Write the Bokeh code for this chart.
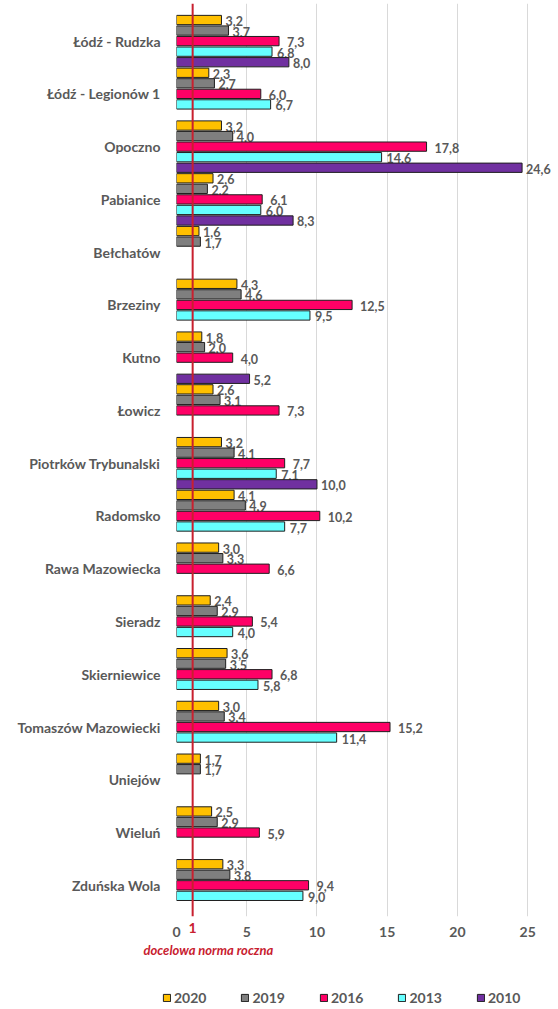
from bokeh.plotting import figure
from bokeh.layouts import column
from bokeh.models import (ColumnDataSource, Range1d, FixedTicker, Span, Title,
                          LinearAxis, Legend, LegendItem)
from bokeh.core.properties import value
from bokeh.embed import file_html
from bokeh.resources import INLINE

# ---------------- data ----------------
cities = ["Łódź - Rudzka", "Łódź - Legionów 1", "Opoczno", "Pabianice", "Bełchatów",
          "Brzeziny", "Kutno", "Łowicz", "Piotrków Trybunalski", "Radomsko",
          "Rawa Mazowiecka", "Sieradz", "Skierniewice", "Tomaszów Mazowiecki",
          "Uniejów", "Wieluń", "Zduńska Wola"]
years = ["2020", "2019", "2016", "2013", "2010"]
v2020 = [3.2, 2.3, 3.2, 2.6, 1.6, 4.3, 1.8, 2.6, 3.2, 4.1, 3.0, 2.4, 3.6, 3.0, 1.7, 2.5, 3.3]
v2019 = [3.7, 2.7, 4.0, 2.2, 1.7, 4.6, 2.0, 3.1, 4.1, 4.9, 3.3, 2.9, 3.5, 3.4, 1.7, 2.9, 3.8]
v2016 = [7.3, 6.0, 17.8, 6.1, None, 12.5, 4.0, 7.3, 7.7, 10.2, 6.6, 5.4, 6.8, 15.2, None, 5.9, 9.4]
v2013 = [6.8, 6.7, 14.6, 6.0, None, 9.5, None, None, 7.1, 7.7, None, 4.0, 5.8, 11.4, None, None, 9.0]
v2010 = [8.0, None, 24.6, 8.3, None, None, 5.2, None, 10.0, None, None, None, None, None, None, None, None]
series = [v2020, v2019, v2016, v2013, v2010]
colors = ["#FFC000", "#7F7F7F", "#FF0066", "#66FFFF", "#7030A0"]
x_ticks = [0, 5, 10, 15, 20, 25]
norm_label = "1"
norm_caption = "docelowa norma roczna"

# ---------------- style ----------------
FONT = "Lato"
GRAY = "#595959"
RED = "#c8202f"
EDGE = "#1f1f1f"
NORM_LINE_X = 1.15          # where the red target line sits in the picture
label_dx = [4, 4, 8, 5, 4]  # per-series horizontal offset of value labels
n_slots = len(years)

p = figure(width=558, height=965, output_backend="svg", toolbar_location=None,
           x_range=Range1d(0, 27.05),
           y_range=Range1d(len(cities) * n_slots - 0.043, -1.564),
           min_border_left=176, min_border_right=2, min_border_top=3,
           min_border_bottom=49)
p.outline_line_color = None
p.background_fill_color = "white"
p.border_fill_color = "white"

# value labels first (they sit under the neighbouring bars, as in the original)
renderers = []
sources = []
for k, (yr, vals, col) in enumerate(zip(years, series, colors)):
    ys, xs, txt = [], [], []
    for g, v in enumerate(vals):
        if v is None:
            continue
        ys.append(g * n_slots + k)
        xs.append(v)
        txt.append(f"{v:.1f}".replace(".", ","))
    src = ColumnDataSource(dict(y=ys, x=xs, t=txt))
    sources.append(src)
    p.text(x="x", y="y", text="t", source=src, x_offset=label_dx[k], y_offset=1,
           text_font=value(FONT), text_font_style="bold", text_font_size="12.5px",
           text_color=GRAY, text_baseline="middle", text_align="left")

for k, (yr, col) in enumerate(zip(years, colors)):
    r = p.hbar(y="y", right="x", left=0, height=0.88, source=sources[k],
               fill_color=col, line_color=EDGE, line_width=1)
    renderers.append(r)

# grid / axes
p.ygrid.visible = False
p.xgrid.ticker = FixedTicker(ticks=x_ticks)
p.xgrid.grid_line_color = "#d9d9d9"
p.xgrid.grid_line_width = 1

xax = p.below[0]
xax.ticker = FixedTicker(ticks=x_ticks)
xax.axis_line_color = None
xax.major_tick_line_color = None
xax.minor_tick_line_color = None
xax.major_tick_out = 0
xax.major_label_standoff = 10
xax.major_label_text_font = FONT
xax.major_label_text_font_style = "bold"
xax.major_label_text_font_size = "14px"
xax.major_label_text_color = GRAY

centers = [g * n_slots + n_slots // 2 for g in range(len(cities))]
yax = p.left[0]
yax.ticker = FixedTicker(ticks=centers)
yax.major_label_overrides = {c: name for c, name in zip(centers, cities)}
yax.axis_line_color = None
yax.major_tick_line_color = None
yax.minor_tick_line_color = None
yax.major_tick_out = 0
yax.major_label_standoff = 16
yax.major_label_text_font = FONT
yax.major_label_text_font_style = "bold"
yax.major_label_text_font_size = "14px"
yax.major_label_text_color = GRAY

# target line, its red tick label (second axis pulled up into the tick row) and caption
p.add_layout(Span(location=NORM_LINE_X, dimension="height", line_color=RED,
                  line_width=2))
red_ax = LinearAxis(ticker=FixedTicker(ticks=[NORM_LINE_X]),
                    major_label_overrides={NORM_LINE_X: norm_label},
                    axis_line_color=None, major_tick_line_color=None,
                    minor_tick_line_color=None, major_tick_out=0, major_tick_in=0,
                    major_label_standoff=-17,
                    major_label_text_font=FONT, major_label_text_font_style="bold",
                    major_label_text_font_size="14px", major_label_text_color=RED)
p.add_layout(red_ax, "below")
p.add_layout(Title(text=norm_caption, align="left", offset=-33, standoff=0,
                   text_font=FONT, text_font_style="bold italic",
                   text_font_size="13px", text_color=RED), "below")

# ---------------- legend strip ----------------
# legend-only strip: its glyphs carry the series styles but have zero size,
# so only the legend entries are visible
p2 = figure(width=558, height=43, output_backend="svg", toolbar_location=None,
            x_range=Range1d(-3, -2), y_range=Range1d(-3, -2), min_border=0,
            min_border_left=0, min_border_right=0, min_border_top=0,
            min_border_bottom=0)
if "frame_align" in p2.properties():
    p2.frame_align = False
    leg_x = 162
else:
    leg_x = -14
p2.axis.visible = False
p2.grid.visible = False
p2.outline_line_color = None
leg_renderers = [p2.hbar(y="y", right="x", left="x", height=0, source=sources[k],
                         fill_color=col, line_color=EDGE, line_width=1)
                 for k, col in enumerate(colors)]
legend = Legend(items=[LegendItem(label=yr, renderers=[r])
                       for yr, r in zip(years, leg_renderers)],
                orientation="horizontal", location=(leg_x, 2),
                glyph_width=9, glyph_height=9, label_standoff=3, spacing=34,
                padding=0, margin=0, label_height=16,
                label_text_font=FONT, label_text_font_style="bold",
                label_text_font_size="14px", label_text_color=GRAY,
                border_line_color=None, background_fill_alpha=0)
p2.add_layout(legend, "center")

layout = column(p, p2, spacing=0)
open("out.html", "w").write(file_html(layout, INLINE))
